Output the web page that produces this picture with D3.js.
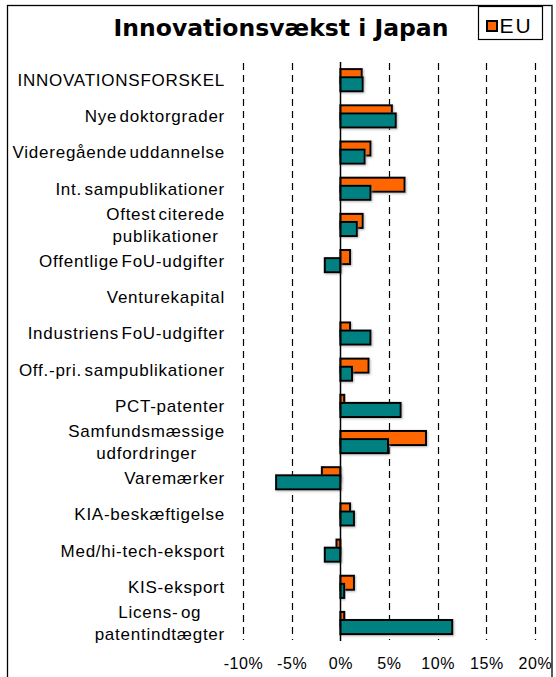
<!DOCTYPE html>
<html>
<head>
<meta charset="utf-8">
<script src="https://cdn.jsdelivr.net/npm/d3@7/dist/d3.min.js"></script>
<style>
    body { margin: 0; background: #fff; }
    svg { display: block; }
</style>
</head>
<body>
<div id="chart"></div>
<script>
// Categories, top to bottom ('|' marks a line break)
var categories = [
    'INNOVATIONSFORSKEL',
    'Nye doktorgrader',
    'Videregående uddannelse',
    'Int. sampublikationer',
    'Oftest citerede|publikationer',
    'Offentlige FoU-udgifter',
    'Venturekapital',
    'Industriens FoU-udgifter',
    'Off.-pri. sampublikationer',
    'PCT-patenter',
    'Samfundsmæssige|udfordringer',
    'Varemærker',
    'KIA-beskæftigelse',
    'Med/hi-tech-eksport',
    'KIS-eksport',
    'Licens- og|patentindtægter'
];

// Growth in percent
var euValues = [2.2, 5.3, 3.1, 6.6, 2.3, 1.0, null, 1.0, 2.9, 0.4, 8.8, -1.9, 1.0, -0.4, 1.4, 0.4];
var japanValues = [2.3, 5.7, 2.5, 3.1, 1.7, -1.6, null, 3.1, 1.2, 6.2, 4.9, -6.6, 1.4, -1.6, 0.4, 11.5];

var tickValues = [-10, -5, 0, 5, 10, 15, 20];
var legendLabels = ['EU'];
var titleText = 'Innovationsvækst i Japan';

var WIDTH = 556;
var HEIGHT = 677;
var LABEL_FONT = '"Liberation Sans", Arial, sans-serif';

var svg = d3.select('#chart').append('svg:svg')
    .attr('width', WIDTH)
    .attr('height', HEIGHT);

// soft grey shadow like the spreadsheet bars
var filter = svg.append('defs').append('filter')
    .attr('id', 'shadow')
    .attr('x', '-20%').attr('y', '-40%')
    .attr('width', '140%').attr('height', '180%');
filter.append('feDropShadow')
    .attr('dx', 1).attr('dy', 1)
    .attr('stdDeviation', 0.8)
    .attr('flood-color', '#888')
    .attr('flood-opacity', 0.6);

// chart border (bottom edge runs off the picture)
svg.append('rect')
    .attr('x', 7.5).attr('y', 5.5)
    .attr('width', 544.5).attr('height', 700)
    .attr('fill', 'none')
    .attr('stroke', '#000')
    .attr('stroke-width', 1.3);

var x = d3.scaleLinear().domain([-10, 20]).range([243, 535]);
var y = d3.scaleBand().domain(d3.range(categories.length)).range([62, 641]);
var bw = y.bandwidth();
var barH = bw * 0.39;

// dashed gridlines
svg.append('g').selectAll('line')
    .data(tickValues.filter(function (t) { return t !== 0; }))
    .enter().append('line')
    .attr('x1', function (d) { return Math.round(x(d)) + 0.5; })
    .attr('x2', function (d) { return Math.round(x(d)) + 0.5; })
    .attr('y1', 63).attr('y2', 640)
    .attr('stroke', '#000')
    .attr('stroke-width', 1.2)
    .attr('stroke-dasharray', '7,5');

// bars: EU first, Japan on top of it
function drawSeries(values, color, offset) {
    svg.append('g').selectAll('rect')
        .data(values.map(function (v, i) { return { v: v, i: i }; })
            .filter(function (d) { return d.v !== null; }))
        .enter().append('rect')
        .attr('x', function (d) { return x(Math.min(0, d.v)); })
        .attr('y', function (d) { return y(d.i) + offset; })
        .attr('width', function (d) { return Math.abs(x(d.v) - x(0)); })
        .attr('height', barH)
        .attr('fill', color)
        .attr('stroke', '#000')
        .attr('stroke-width', 2)
        .attr('filter', 'url(#shadow)');
}
drawSeries(euValues, '#FF6600', bw * 0.196);
drawSeries(japanValues, '#008080', bw * 0.42);

// zero line
svg.append('line')
    .attr('x1', Math.round(x(0)) + 0.5).attr('x2', Math.round(x(0)) + 0.5)
    .attr('y1', 62).attr('y2', 641)
    .attr('stroke', '#000')
    .attr('stroke-width', 1.5);

// category labels, right aligned; wrapped lines centred on each other
var LABEL_RIGHT = 225;
categories.forEach(function (c, i) {
    var lines = c.split('|');
    var cy = y(i) + bw / 2;
    var g = svg.append('g')
        .attr('font-family', LABEL_FONT)
        .attr('font-size', 17)
        .attr('letter-spacing', 0.75)
        .attr('word-spacing', -3)
        .attr('fill', '#000');
    if (lines.length === 1) {
        g.append('text')
            .attr('x', LABEL_RIGHT)
            .attr('y', cy + 6)
            .attr('text-anchor', 'end')
            .text(lines[0]);
    } else {
        var texts = lines.map(function (l, k) {
            return g.append('text')
                .attr('y', cy - 5 + k * 22)
                .attr('text-anchor', 'middle')
                .text(l);
        });
        var maxW = d3.max(texts, function (t) { return t.node().getComputedTextLength(); });
        texts.forEach(function (t) { t.attr('x', LABEL_RIGHT - maxW / 2); });
    }
});

// x axis tick labels
var axis = d3.axisBottom(x)
    .tickValues(tickValues)
    .tickSize(0)
    .tickPadding(0)
    .tickFormat(function (d) { return d + '%'; });
var axisG = svg.append('g')
    .attr('transform', 'translate(0,657)')
    .call(axis);
axisG.select('.domain').remove();
axisG.selectAll('text')
    .attr('font-family', LABEL_FONT)
    .attr('font-size', 16)
    .attr('letter-spacing', 0.6)
    .attr('fill', '#000')
    .attr('dy', '0.75em');

// title
svg.append('text')
    .attr('x', 281)
    .attr('y', 36)
    .attr('text-anchor', 'middle')
    .attr('font-family', '"DejaVu Sans", Verdana, sans-serif')
    .attr('font-weight', 'bold')
    .attr('font-size', 23.5)
    .attr('fill', '#000')
    .text(titleText);

// legend
var legend = svg.append('g').attr('transform', 'translate(478,6)');
legend.append('rect')
    .attr('x', 0.5).attr('y', 0.5)
    .attr('width', 64).attr('height', 33)
    .attr('fill', '#fff')
    .attr('stroke', '#000')
    .attr('stroke-width', 1.2);
legendLabels.forEach(function (l) {
    legend.append('rect')
        .attr('x', 9).attr('y', 15)
        .attr('width', 10).attr('height', 10)
        .attr('fill', '#FF6600')
        .attr('stroke', '#000')
        .attr('stroke-width', 2);
    legend.append('text')
        .attr('x', 21.5).attr('y', 27)
        .attr('font-family', LABEL_FONT)
        .attr('font-size', 21)
        .attr('letter-spacing', 2)
        .attr('fill', '#000')
        .text(l);
});
</script>
</body>
</html>
